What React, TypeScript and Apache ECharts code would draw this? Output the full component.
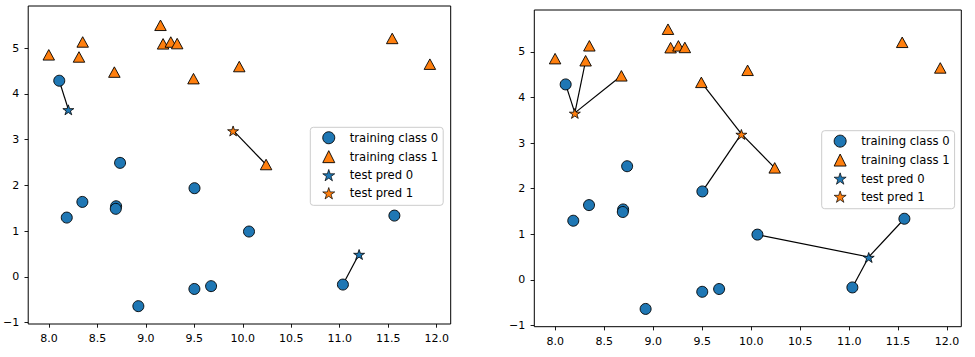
import React, { useEffect, useRef } from "react";
import * as echarts from "echarts";

// forge dataset (training points)
const trainX = [9.96346605, 11.0329545, 11.54155807, 8.69289001, 8.1062269, 8.30988863, 11.93027136, 9.67284681, 8.34810316, 8.67494727, 9.17748385, 10.24028948, 8.68937095, 8.92229526, 9.49123469, 9.25694192, 7.99815287, 8.18378052, 8.7337095, 9.32298256, 10.06393839, 9.50048972, 8.34468785, 9.50169345, 9.15072323, 11.563957];
const trainY = [4.59676542, -0.16816717, 5.21116083, 1.54322016, 4.28695977, 4.80623966, 4.64866327, -0.20283165, 5.13415623, 4.47573059, 5.09283177, 2.45544401, 1.48709629, -0.63993225, 4.33224792, 5.13284858, 4.8525051, 1.29564214, 2.49162431, 5.09840649, 0.99078055, -0.26430318, 1.63824349, 1.93824624, 5.49832246, 1.3389402];
const trainClass = [1, 0, 1, 0, 0, 1, 1, 0, 1, 1, 1, 1, 0, 0, 1, 1, 1, 0, 0, 1, 0, 0, 0, 0, 1, 0];

// test points
const testX = [8.2, 9.9, 11.2];
const testY = [3.66214339, 3.2, 0.5];

// one panel per neighbour count
const neighborCounts = [1, 3];

const xTicks = [8, 8.5, 9, 9.5, 10, 10.5, 11, 11.5, 12];
const yTicks = [-1, 0, 1, 2, 3, 4, 5];

const legendNames = ["training class 0", "training class 1", "test pred 0", "test pred 1"];

const BLUE = "#1f77b4";
const ORANGE = "#ff7f0e";
const FONT = "DejaVu Sans";
const STAR =
  "path://M0,-1L0.2245,-0.309L0.9511,-0.309L0.3633,0.118L0.5878,0.809L0,0.382L-0.5878,0.809L-0.3633,0.118L-0.9511,-0.309L-0.2245,-0.309Z";

const grids = [
  { left: 23.3, top: 6, width: 427.4, height: 318 },
  { left: 534.3, top: 10, width: 427, height: 316.7 },
];
const legendPos = [
  { left: 310.3, top: 127.3 },
  { left: 821.7, top: 130.7 },
];

function knn(k: number) {
  return testX.map((tx, t) => {
    const ty = testY[t];
    const idx = trainX.map((_, i) => i);
    idx.sort(
      (a, b) =>
        Math.hypot(trainX[a] - tx, trainY[a] - ty) - Math.hypot(trainX[b] - tx, trainY[b] - ty)
    );
    const nb = idx.slice(0, k);
    const ones = nb.filter((i) => trainClass[i] === 1).length;
    const pred = ones * 2 > k ? 1 : 0;
    return { nb, pred };
  });
}

const fmtNum = (v: number, d: number) => {
  const s = Math.abs(v).toFixed(d);
  return v < 0 ? "\u2212" + s : s;
};

export default function App() {
  const ref = useRef<HTMLDivElement>(null);
  useEffect(() => {
    if (!ref.current) return;
    const chart = echarts.init(ref.current, undefined, { renderer: "svg" });
    const series: any[] = [];
    const xAxis: any[] = [];
    const yAxis: any[] = [];
    const legend: any[] = [];
    neighborCounts.forEach((k, p) => {
      const res = knn(k);
      xAxis.push({
        type: "value",
        gridIndex: p,
        min: 7.786,
        max: 12.145,
        splitLine: { show: false },
        axisLine: { show: false, onZero: false },
        axisTick: { show: true, length: 3.7, lineStyle: { color: "#000", width: 0.9 }, customValues: xTicks },
        axisLabel: {
          customValues: xTicks,
          formatter: (v: number) => fmtNum(v, 1),
          fontFamily: FONT,
          fontSize: 11,
          color: "#000",
          margin: 9,
        },
      });
      yAxis.push({
        type: "value",
        gridIndex: p,
        min: -1.03,
        max: 5.92,
        splitLine: { show: false },
        axisLine: { show: false, onZero: false },
        axisTick: { show: true, length: 3.7, lineStyle: { color: "#000", width: 0.9 }, customValues: yTicks },
        axisLabel: {
          customValues: yTicks,
          formatter: (v: number) => fmtNum(v, 0),
          fontFamily: FONT,
          fontSize: 11,
          color: "#000",
          margin: 9,
        },
      });
      const segs: any[] = [];
      res.forEach((r, t) => {
        r.nb.forEach((n) => {
          segs.push({ coords: [[testX[t], testY[t]], [trainX[n], trainY[n]]] });
        });
      });
      series.push({
        type: "lines",
        coordinateSystem: "cartesian2d",
        xAxisIndex: p,
        yAxisIndex: p,
        data: segs,
        lineStyle: { color: "#000", width: 1.2, opacity: 1 },
        silent: true,
        z: 1,
      });
      [0, 1].forEach((c) => {
        series.push({
          type: "scatter",
          name: "test pred " + c,
          xAxisIndex: p,
          yAxisIndex: p,
          symbol: STAR,
          symbolSize: [11, 10.5],
          symbolKeepAspect: true,
          symbolOffset: [0, 0.5],
          data: res.map((r, t) => (r.pred === c ? [testX[t], testY[t]] : null)).filter((d) => d),
          itemStyle: { color: c === 0 ? BLUE : ORANGE, borderColor: "#000", borderWidth: 0.8, opacity: 1 },
          z: 2,
        });
      });
      [0, 1].forEach((c) => {
        series.push({
          type: "scatter",
          name: "training class " + c,
          xAxisIndex: p,
          yAxisIndex: p,
          symbol: c === 0 ? "circle" : "triangle",
          symbolSize: c === 0 ? 11 : [11.5, 10.5],
          data: trainX.map((x, i) => (trainClass[i] === c ? [x, trainY[i]] : null)).filter((d) => d),
          itemStyle: { color: c === 0 ? BLUE : ORANGE, borderColor: "#000", borderWidth: 0.9, opacity: 1 },
          z: 3,
        });
      });
      legend.push({
        orient: "vertical",
        left: legendPos[p].left,
        top: legendPos[p].top,
        data: legendNames.map((n, i) =>
          i < 2
            ? { name: n, itemStyle: { borderWidth: 0.9, borderColor: "#000" } }
            : { name: n, itemStyle: { borderWidth: 0.7, borderColor: "#000" } }
        ),
        itemWidth: 12,
        itemHeight: 12,
        itemGap: 6,
        padding: [4, 5, 6, 12],
        backgroundColor: "rgba(255,255,255,0.8)",
        borderColor: "#cccccc",
        borderWidth: 1,
        borderRadius: 3,
        selectedMode: false,
        itemStyle: { borderWidth: 0.9, borderColor: "#000" },
        textStyle: { fontFamily: FONT, fontSize: 11.6, color: "#000", lineHeight: 12, padding: [0, 0, 0, 10] },
      });
    });
    chart.setOption({
      animation: false,
      backgroundColor: "#fff",
      grid: grids.map((g) => ({ ...g, show: true, borderColor: "#000", borderWidth: 1, containLabel: false })),
      xAxis,
      yAxis,
      legend,
      series,
    });
    return () => chart.dispose();
  }, []);
  return (
    <div
      ref={ref}
      style={{ position: "absolute", left: 0, top: 0, width: 975, height: 357 }}
    />
  );
}
